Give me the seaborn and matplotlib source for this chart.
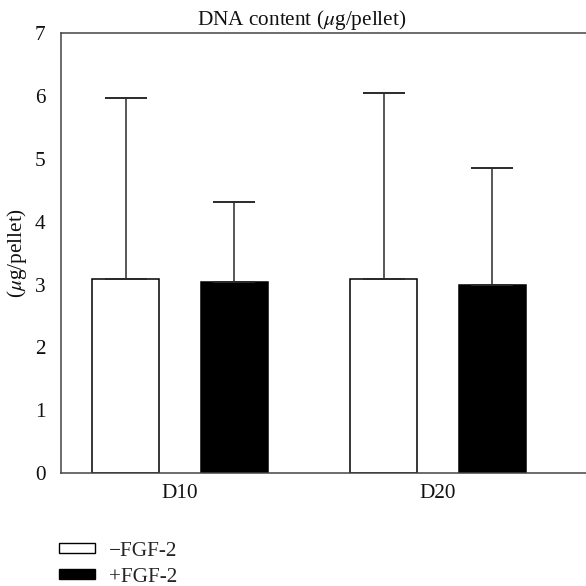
import matplotlib
matplotlib.use("Agg")
import matplotlib.pyplot as plt
from matplotlib.patches import Patch
import seaborn as sns
import pandas as pd
import numpy as np

days = ["D10", "D20"]
groups = ["\u2212FGF-2", "+FGF-2"]
means_minus = [3.09, 3.09]
means_plus = [3.04, 2.99]
sd_minus = [2.88, 2.96]
sd_plus = [1.27, 1.87]
yticks = [0, 1, 2, 3, 4, 5, 6, 7]

df = pd.DataFrame({
    "day": days + days,
    "group": [groups[0]] * 2 + [groups[1]] * 2,
    "mean": means_minus + means_plus,
    "sd": sd_minus + sd_plus,
})

sns.set_theme(style="white")
plt.rcParams["font.family"] = ["Liberation Serif", "DejaVu Serif"]
plt.rcParams["mathtext.fontset"] = "stix"

FS = 15.3

fig = plt.figure(figsize=(5.86, 5.86), dpi=100)
ax = fig.add_axes([61 / 586, 1 - 473.3 / 586, 1 - 61 / 586, (473.3 - 33) / 586])

sns.barplot(data=df, x="day", y="mean", hue="group", order=days, hue_order=groups,
            palette=["white", "black"], saturation=1, width=0.84, gap=0.38,
            edgecolor="black", linewidth=1.1, errorbar=None, legend=False, ax=ax)

# error bars (upper only) at bar centres
for gi, g in enumerate(groups):
    sub = df[df["group"] == g].set_index("day").loc[days]
    cont = ax.containers[gi]
    xs = [r.get_x() + r.get_width() / 2 for r in cont]
    ax.errorbar(xs, sub["mean"].values,
                yerr=[np.zeros(len(xs)), sub["sd"].values],
                fmt="none", ecolor="#2a2a2a", elinewidth=1.1,
                capsize=14.8, capthick=1.4, zorder=1)

ax.set_ylim(0, 7)
ax.set_xlim(-0.461, 1.574)
ax.set_yticks(yticks)
ax.set_yticklabels([str(t) for t in yticks])
ax.tick_params(axis="both", length=0, labelsize=FS, colors="#111111")
ax.tick_params(axis="y", pad=11)
ax.tick_params(axis="x", pad=8)
ax.set_xlabel("")
ax.set_ylabel("($\\mu$g/pellet)", fontsize=FS, color="#111111")
ax.yaxis.set_label_coords((29 - 61) / 525, 0.5)
ax.set_title("DNA content ($\\mu$g/pellet)", fontsize=FS, color="#111111",
             x=(302 - 61) / 525, pad=6)

for s in ["left", "top", "bottom"]:
    ax.spines[s].set_visible(True)
    ax.spines[s].set_color("#444444")
    ax.spines[s].set_linewidth(1.1)
ax.spines["right"].set_visible(False)

handles = [Patch(facecolor="white", edgecolor="black", linewidth=1.0),
           Patch(facecolor="black", edgecolor="black", linewidth=1.0)]
fig.legend(handles, groups, loc="upper left", bbox_to_anchor=(59 / 586, 1 - 542 / 586),
           frameon=False, fontsize=FS, handlelength=1.7, handleheight=0.35,
           handletextpad=0.65, labelspacing=0.32, borderaxespad=0, borderpad=0)

fig.savefig("out.png", dpi=100)
